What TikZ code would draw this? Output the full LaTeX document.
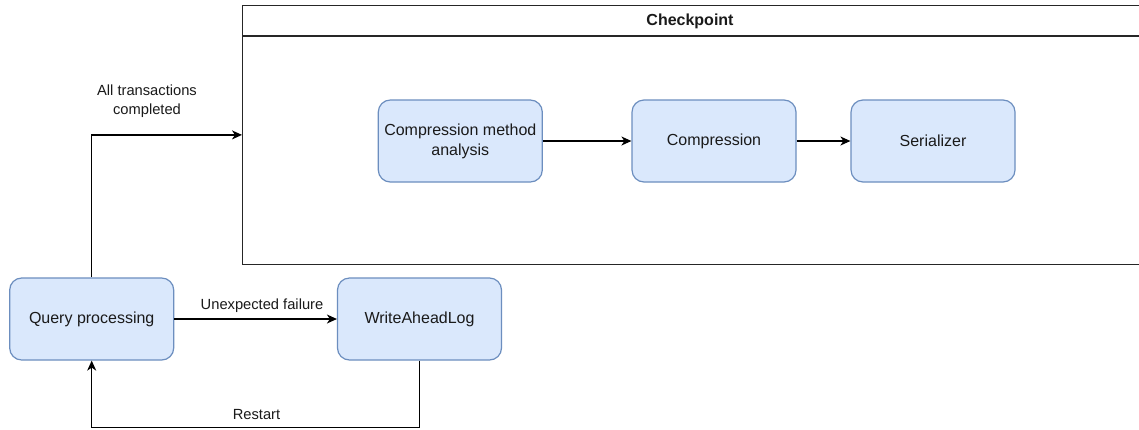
\documentclass[tikz,border=0pt]{standalone}
\usepackage{fontspec}
\setmainfont{Liberation Sans}
\usetikzlibrary{arrows.meta}

\definecolor{boxfill}{HTML}{DAE8FC}
\definecolor{boxline}{HTML}{6C8EBF}
\definecolor{inkcol}{HTML}{1A1A1A}

\tikzset{
  stage/.style={draw=boxline, fill=boxfill, line width=1.2pt, rounded corners=12pt,
    minimum width=164pt, minimum height=82pt, align=center, text=inkcol,
    font=\fontsize{16}{20}\selectfont, inner sep=0pt},
  frame/.style={draw=black!85, line width=1.3pt, minimum width=897.6pt,
    minimum height=259.5pt, inner sep=0pt, anchor=north west},
  arr/.style={draw=black, line width=1.3pt,
    -{Stealth[length=10pt, width=9pt, inset=3pt]}},
  lbl/.style={text=inkcol, font=\fontsize{14.7}{19}\selectfont, align=center, inner sep=1pt}
}

\begin{document}
\begin{tikzpicture}[x=1pt, y=-1pt]
  \useasboundingbox (0,0) rectangle (1139,429);
  \clip (0,0) rectangle (1139,429);
  \fill[white] (0,0) rectangle (1139,429);

  % checkpoint container with its title band
  \node[frame] (cp) at (242,4.5) {};
  \coordinate (hl) at (242,36);
  \coordinate (hr) at (1140,36);
  \draw[draw=black!85, line width=1.3pt] (hl) -- (hr);
  \node[font=\bfseries\fontsize{16}{20}\selectfont, text=inkcol] (cptitle) at (690,21) {Checkpoint};

  % processing stages
  \node[stage] (cma) at (460.3,141) {Compression method\\analysis};
  \node[stage] (comp) at (714,141) {Compression};
  \node[stage] (ser) at (933,141) {Serializer};
  \node[stage] (qp) at (91.7,319) {Query processing};
  \node[stage] (wal) at (419.5,319) {WriteAheadLog};

  % connectors
  \draw[arr] (cma) -- (comp);
  \draw[arr] (comp) -- (ser);
  \draw[arr] (qp.north) |- (cp.west);
  \draw[arr] (qp) -- (wal);
  \coordinate (rb) at (419.5,427.5);
  \draw[arr] (wal.south) -- (rb) -| (qp.south);

  % connector labels
  \node[lbl] (lall) at (147,101) {All transactions\\completed};
  \node[lbl] (lfail) at (262,306) {Unexpected failure};
  \node[lbl] (lrest) at (256.5,415) {Restart};
\end{tikzpicture}
\end{document}
